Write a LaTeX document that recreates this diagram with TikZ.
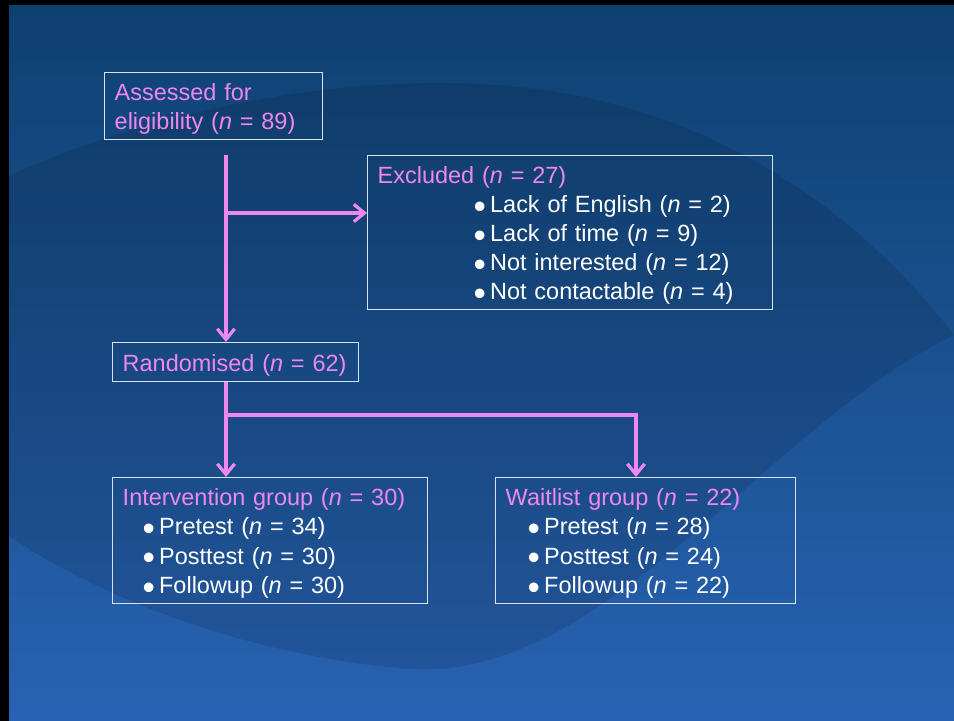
\documentclass[tikz,border=0pt]{standalone}
\usepackage{fontspec}
\setmainfont{Liberation Sans}
\usetikzlibrary{arrows.meta}
\definecolor{pinkc}{RGB}{238,135,238}
\definecolor{boxline}{RGB}{215,225,240}
\definecolor{bgtop}{RGB}{14,64,112}
\definecolor{bgbot}{RGB}{40,98,178}
\newcommand\blt{\makebox[0.7em][l]{\smash{\raisebox{-0.25em}{\scalebox{1.5}{\textbullet}}}}}
\newcommand\tp{\rule{0pt}{16.8pt}}
\tikzset{
  box/.style={draw=boxline, line width=1.1pt, anchor=north west, align=left,
    inner xsep=7.5pt, inner ysep=0pt, text=white,
    font=\fontsize{17.6}{21.9}\selectfont},
  arr/.style={draw=pinkc, line width=2.4pt, -{Straight Barb[length=8pt,width=13pt]}},
}
\begin{document}
\begin{tikzpicture}[x=0.75pt, y=-0.75pt]
\useasboundingbox (0,0) rectangle (954,721);
% background
\fill[top color=bgtop, bottom color=bgbot] (0,0) rectangle (954,721);
\fill[black, opacity=0.11] (0,180) .. controls (150,110) and (350,70) .. (518,87)
  .. controls (700,105) and (850,200) .. (954,335)
  .. controls (760,430) and (600,690) .. (400,668)
  .. controls (250,655) and (100,600) .. (0,530) -- cycle;
\fill[black] (0,0) rectangle (9,721);
\fill[black] (0,0) rectangle (954,5);

\node[box, text width=148.5pt, minimum height=50.25pt] (assess) at (104,72)
  {\tp\textcolor{pinkc}{Assessed for}\\\textcolor{pinkc}{eligibility (\textit{n} = 89)}};
\node[box, text width=288.75pt, minimum height=115.5pt] (excl) at (367,155)
  {\tp\textcolor{pinkc}{Excluded (\textit{n} = 27)}\\
   \hspace*{72pt}\blt Lack of English (\textit{n} = 2)\\
   \hspace*{72pt}\blt Lack of time (\textit{n} = 9)\\
   \hspace*{72pt}\blt Not interested (\textit{n} = 12)\\
   \hspace*{72pt}\blt Not contactable (\textit{n} = 4)};
\node[box, text width=169.5pt, minimum height=29.25pt] (rand) at (112,342)
  {\mbox{\tp\textcolor{pinkc}{Randomised (\textit{n} = 62)}}};
\node[box, text width=221.25pt, minimum height=94.5pt] (interv) at (112,477)
  {\tp\textcolor{pinkc}{Intervention group (\textit{n} = 30)}\\
   \hspace*{15pt}\blt Pretest (\textit{n} = 34)\\
   \hspace*{15pt}\blt Posttest (\textit{n} = 30)\\
   \hspace*{15pt}\blt Followup (\textit{n} = 30)};
\node[box, text width=210pt, minimum height=94.5pt] (wait) at (495,477)
  {\tp\textcolor{pinkc}{Waitlist group (\textit{n} = 22)}\\
   \hspace*{16.5pt}\blt Pretest (\textit{n} = 28)\\
   \hspace*{16.5pt}\blt Posttest (\textit{n} = 24)\\
   \hspace*{16.5pt}\blt Followup (\textit{n} = 22)};

\coordinate (trunk) at (226,155);
\coordinate (fork1) at (226,213);
\coordinate (fork2) at (226,415);
\coordinate (drop) at (636,415);

\draw[arr] (trunk) -- (trunk |- rand.north);
\draw[arr] (fork1) -- (fork1 -| excl.west);
\draw[arr] (trunk |- rand.south) -- (trunk |- interv.north);
\draw[arr] (fork2) -- (drop) -- (drop |- wait.north);
\end{tikzpicture}
\end{document}
